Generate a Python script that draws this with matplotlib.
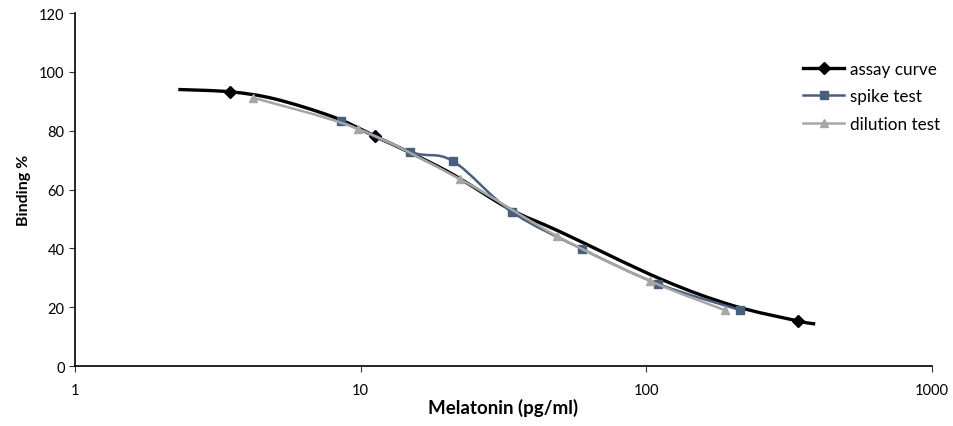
import numpy as np
import matplotlib
matplotlib.use('Agg')
import matplotlib.pyplot as plt
from matplotlib.path import Path
from matplotlib.patches import PathPatch
from matplotlib.lines import Line2D

plt.rcParams['font.family'] = ['Lato', 'DejaVu Sans']

# assay curve (line, markers at standards)
assay_x = [2.3, 3.5, 5, 8, 11.2, 20, 33, 50, 112, 200, 340, 390]
assay_y = [94.0, 93.2, 90.8, 84.7, 78.2, 66.3, 53.5, 45.6, 29.6, 20.6, 15.3, 14.3]
assay_mx = [3.5, 11.2, 340]
assay_my = [93.2, 78.2, 15.3]

spike_x = [8.5, 14.9, 21.0, 33.8, 59.5, 110, 213]
spike_y = [83.3, 72.8, 69.7, 52.4, 39.8, 27.9, 19.0]

dil_x = [4.2, 9.8, 22.2, 48.6, 103, 188]
dil_y = [91.2, 80.6, 63.6, 44.2, 28.9, 19.0]


def smooth_path(xs, ys):
    # Catmull-Rom -> cubic bezier in log-x space, like Excel's smoothed line
    lx = np.log10(xs)
    y = np.asarray(ys, float)
    n = len(lx)
    verts = [(xs[0], y[0])]
    codes = [Path.MOVETO]
    for i in range(n - 1):
        p0 = (lx[max(i - 1, 0)], y[max(i - 1, 0)])
        p1 = (lx[i], y[i])
        p2 = (lx[i + 1], y[i + 1])
        p3 = (lx[min(i + 2, n - 1)], y[min(i + 2, n - 1)])
        c1 = (p1[0] + (p2[0] - p0[0]) / 6, p1[1] + (p2[1] - p0[1]) / 6)
        c2 = (p2[0] - (p3[0] - p1[0]) / 6, p2[1] - (p3[1] - p1[1]) / 6)
        for c in (c1, c2, p2):
            verts.append((10 ** c[0], c[1]))
            codes.append(Path.CURVE4)
    return Path(verts, codes)


fig = plt.figure(figsize=(9.54, 4.27), dpi=100)
ax = fig.add_axes([0.0786, 0.1405, 0.8984, 0.8267])

c_assay = 'black'
c_spike = '#4a5e7e'
c_dil = '#a6a6a6'

ax.add_patch(PathPatch(smooth_path(assay_x, assay_y), fill=False, ec=c_assay, lw=2.4, zorder=2))
ax.plot(assay_mx, assay_my, 'D', color=c_assay, ms=6, zorder=2)
ax.add_patch(PathPatch(smooth_path(spike_x, spike_y), fill=False, ec=c_spike, lw=1.8, zorder=3))
ax.plot(spike_x, spike_y, 's', color=c_spike, ms=6, zorder=3)
ax.add_patch(PathPatch(smooth_path(dil_x, dil_y), fill=False, ec=c_dil, lw=1.8, zorder=4))
ax.plot(dil_x, dil_y, '^', color=c_dil, ms=6, zorder=4)

ax.set_xscale('log')
ax.set_xlim(1, 1000)
ax.set_ylim(0, 120)
ax.set_xticks([1, 10, 100, 1000])
ax.set_xticklabels(['1', '10', '100', '1000'])
ax.xaxis.set_minor_locator(matplotlib.ticker.NullLocator())
ax.set_yticks(np.arange(0, 121, 20))
ax.tick_params(axis='both', labelsize=10.5, length=4, width=0.8, colors='#333333', labelcolor='black')
ax.tick_params(axis='x', pad=8)
for s in ['top', 'right']:
    ax.spines[s].set_visible(False)
for s in ['left', 'bottom']:
    ax.spines[s].set_linewidth(1.2)

ax.set_xlabel('Melatonin (pg/ml)', fontsize=13.5, fontweight='bold', labelpad=1)
ax.set_ylabel('Binding %', fontsize=11.5, fontweight='bold', labelpad=6)

handles = [
    Line2D([], [], color=c_assay, lw=2.4, marker='D', ms=6),
    Line2D([], [], color=c_spike, lw=1.8, marker='s', ms=6),
    Line2D([], [], color=c_dil, lw=1.8, marker='^', ms=6),
]
fig.legend(handles, ['assay curve', 'spike test', 'dilution test'],
           loc='upper left', bbox_to_anchor=(0.826, 0.89), frameon=False,
           fontsize=12.3, handlelength=2.4, handletextpad=0.35, labelspacing=0.65)

fig.savefig('out.png', dpi=100)
